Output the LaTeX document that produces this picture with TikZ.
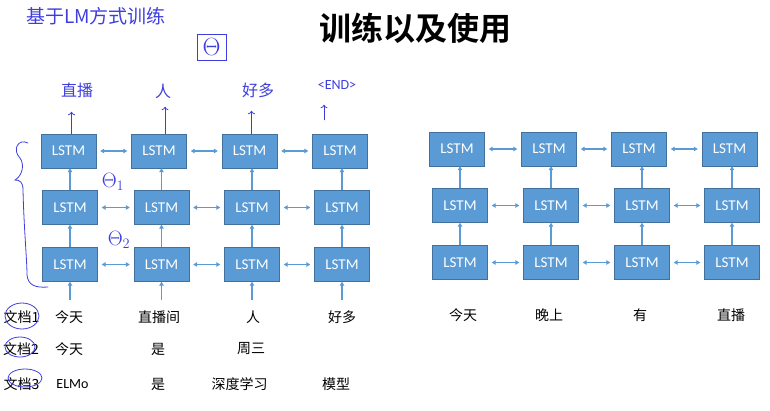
\documentclass[tikz,border=0pt]{standalone}
\usepackage{fontspec}
\setmainfont{Carlito}
\newfontfamily\cjk{Noto Sans CJK SC}[BoldFont={Noto Sans CJK SC Bold}]
\usetikzlibrary{arrows.meta}
\definecolor{boxblue}{RGB}{91,155,213}
\definecolor{boxedge}{RGB}{65,113,156}
\definecolor{ink}{RGB}{62,62,222}
\tikzset{
  lstm/.style={draw=boxedge,fill=boxblue,text=white,minimum width=55pt,minimum height=34pt,inner sep=0pt,font=\fontsize{15}{15}\selectfont},
  link/.style={draw=boxblue,line width=1.3pt,>={Triangle[length=4pt,width=4.5pt]}},
  word/.style={font=\cjk\fontsize{14}{14}\selectfont},
  pen/.style={draw=ink,line width=0.8pt,line cap=round},
  note/.style={text=ink,font=\cjk\fontsize{16}{16}\selectfont}
}
\begin{document}
\begin{tikzpicture}[x=1pt,y=-1pt]
    \useasboundingbox (0,0) rectangle (770,410);
    \node[font=\cjk\bfseries\fontsize{32}{32}\selectfont] (title) at (415,28) {训练以及使用};
    % left grid, trained on the documents
    \foreach \x [count=\i] in {68.5,159,249.5,340} \node[lstm] (l3-\i) at (\x,151) {LSTM};
    \foreach \x [count=\i] in {70,161.5,252,342} {
        \node[lstm] (l2-\i) at (\x,207.5) {LSTM};
        \node[lstm] (l1-\i) at (\x,264.5) {LSTM};
        \coordinate (in-\i) at (\x,300);
        \draw[link,->] (in-\i) -- (l1-\i.south);
        \draw[link,->] (l1-\i.north) -- (l2-\i.south);
        \draw[link,->] (l2-\i.north) -- (l2-\i.north |- l3-\i.south);
    }
    \foreach \i/\j in {1/2,2/3,3/4} {
        \draw[link,<->,shorten <=4pt,shorten >=4pt] (l1-\i) -- (l1-\j);
        \draw[link,<->,shorten <=4pt,shorten >=4pt] (l2-\i) -- (l2-\j);
        \draw[link,<->,shorten <=4pt,shorten >=4pt] (l3-\i) -- (l3-\j);
    }
    % right grid, used on a new sentence
    \foreach \x [count=\i] in {457,549,639,729.5} \node[lstm] (r3-\i) at (\x,149) {LSTM};
    \foreach \x [count=\i] in {460,551,642,732} {
        \node[lstm] (r2-\i) at (\x,205.5) {LSTM};
        \node[lstm] (r1-\i) at (\x,262.5) {LSTM};
        \draw[link,->] (r1-\i.north) -- (r2-\i.south);
        \draw[link,->] (r2-\i.north) -- (r2-\i.north |- r3-\i.south);
    }
    \foreach \i/\j in {1/2,2/3,3/4} {
        \draw[link,<->,shorten <=4pt,shorten >=4pt] (r1-\i) -- (r1-\j);
        \draw[link,<->,shorten <=4pt,shorten >=4pt] (r2-\i) -- (r2-\j);
        \draw[link,<->,shorten <=4pt,shorten >=4pt] (r3-\i) -- (r3-\j);
    }
    % words
    \node[word] (d1) at (21.5,317) {文档1};
    \node[word] (d2) at (21,349) {文档2};
    \node[word] (d3) at (21.5,384) {文档3};
    \node[word] (d1-1) at (69,317) {今天};
    \node[word] (d1-2) at (159,317) {直播间};
    \node[word] (d1-3) at (253,317) {人};
    \node[word] (d1-4) at (342,317) {好多};
    \node[word] (d2-1) at (69,349) {今天};
    \node[word] (d2-2) at (158,349) {是};
    \node[word] (d2-3) at (251,349) {周三};
    \node[font=\fontsize{14}{14}\selectfont] (d3-1) at (72.5,384) {ELMo};
    \node[word] (d3-2) at (158,384) {是};
    \node[word] (d3-3) at (239.5,384) {深度学习};
    \node[word] (d3-4) at (336,384) {模型};
    \node[word] (s-1) at (463,315) {今天};
    \node[word] (s-2) at (549,315) {晚上};
    \node[word] (s-3) at (640,315) {有};
    \node[word] (s-4) at (731,315) {直播};
    % handwritten notes
    \node[note,font=\cjk\fontsize{19}{19}\selectfont] (head) at (96,16) {基于LM方式训练};
    \node[draw=ink,text=ink,line width=0.8pt,minimum width=29pt,minimum height=26pt,inner sep=1pt,font=\Huge] (theta) at (211.5,47) {$\Theta$};
    \node[note] (o-1) at (77,90) {直播};
    \node[note] (o-2) at (163,91) {人};
    \node[note] (o-3) at (258,90) {好多};
    \node[note,font=\fontsize{14}{14}\selectfont] (o-4) at (337,85) {<END>};
    \draw[pen,->] (l3-1.north) ++(3,0) -- ++(0,-22);
    \draw[pen,->] (l3-2.north) ++(6,0) -- ++(0,-27);
    \draw[pen,->] (l3-3.north) ++(2,0) -- ++(0,-23);
    \draw[pen,->] (l3-4.north) ++(-16,-14) -- ++(0,-15);
    \node[text=ink,font=\huge] (t1) at (113,182) {$\Theta_1$};
    \node[text=ink,font=\huge] (t2) at (119,240) {$\Theta_2$};
    \draw[pen] (28,143) .. controls (18,138) and (12,150) .. (20,158)
        .. controls (25,165) and (22,176) .. (15,180)
        .. controls (20,180) and (23,182) .. (23,190)
        .. controls (24,230) and (27,260) .. (27,275)
        .. controls (28,285) and (35,288) .. (48,287);
    \draw[pen] (d1) ++(0.5,-1) ellipse [x radius=17pt,y radius=13pt];
    \draw[pen] (d2) ++(-1,-2) ellipse [x radius=15pt,y radius=10pt];
    \draw[pen] (d3) ++(3.5,-6) ellipse [x radius=17pt,y radius=9pt];
\end{tikzpicture}
\end{document}
